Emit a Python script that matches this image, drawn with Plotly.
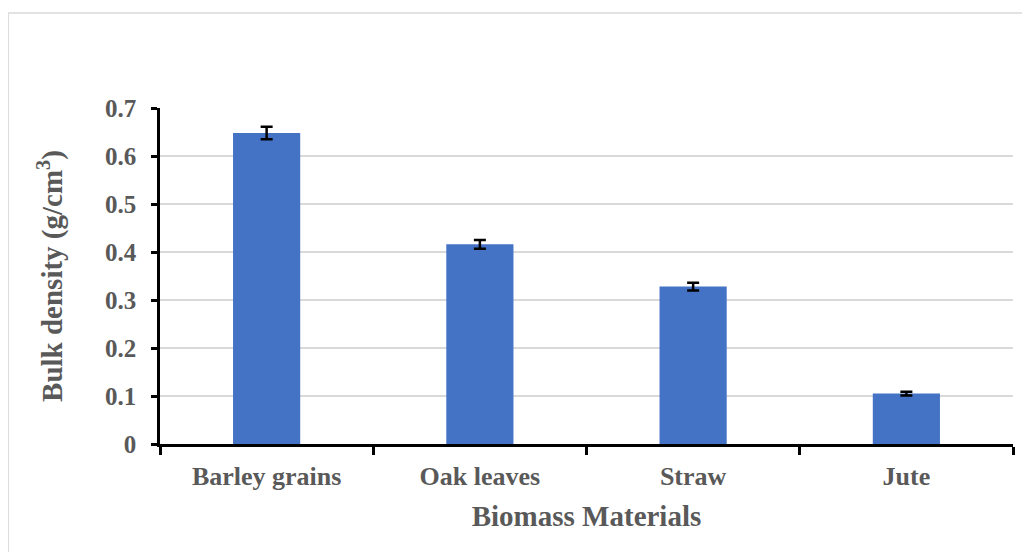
import plotly.graph_objects as go

categories = ["Barley grains", "Oak leaves", "Straw", "Jute"]
bulk_density = [0.648, 0.416, 0.328, 0.105]
errors = [0.013, 0.009, 0.008, 0.004]
y_ticks = [0, 0.1, 0.2, 0.3, 0.4, 0.5, 0.6, 0.7]
y_tick_labels = ["0", "0.1", "0.2", "0.3", "0.4", "0.5", "0.6", "0.7"]

font_family = "Liberation Serif, Times New Roman, serif"
gray = "#595959"

fig = go.Figure()
fig.add_trace(go.Bar(
    x=categories,
    y=bulk_density,
    marker=dict(color="#4472C4", line=dict(width=0)),
    width=0.315,
    error_y=dict(type="data", array=errors, visible=True, color="black",
                 thickness=2.5, width=6),
))

fig.update_layout(
    width=1022, height=544,
    margin=dict(l=152, r=17, t=100, b=108),
    paper_bgcolor="white", plot_bgcolor="white",
    showlegend=False,
    font=dict(family=font_family, color=gray),
    xaxis=dict(
        tickson="boundaries", ticks="outside", ticklen=8, tickwidth=2.5, tickcolor="black",
        showline=True, linecolor="black", linewidth=2.5,
        ticklabelstandoff=7,
        tickfont=dict(size=26, family=font_family, color=gray, weight="bold"),
        title=dict(text="<b>Biomass Materials</b>", font=dict(size=29, family=font_family, color=gray), standoff=16),
        showgrid=False,
    ),
    yaxis=dict(
        range=[0, 0.7], tickvals=y_ticks, ticktext=y_tick_labels,
        ticks="outside", ticklen=6, tickwidth=2.5, tickcolor="black",
        showline=True, linecolor="black", linewidth=2.5,
        showgrid=True, gridcolor="#d9d9d9", gridwidth=1.5,
        zeroline=False,
        ticklabelstandoff=10,
        tickfont=dict(size=25, family=font_family, color=gray, weight="bold"),
        title=dict(text="<b>Bulk density (g/cm<sup>3</sup>)</b>", font=dict(size=29, family=font_family, color=gray), standoff=34),
    ),
    shapes=[dict(type="rect", xref="paper", yref="paper",
                 x0=-0.178, x1=1.05, y0=-0.4, y1=1.283,
                 line=dict(color="#d9d9d9", width=1.5), fillcolor="rgba(0,0,0,0)", layer="below")],
)

fig.write_html("out.html")
